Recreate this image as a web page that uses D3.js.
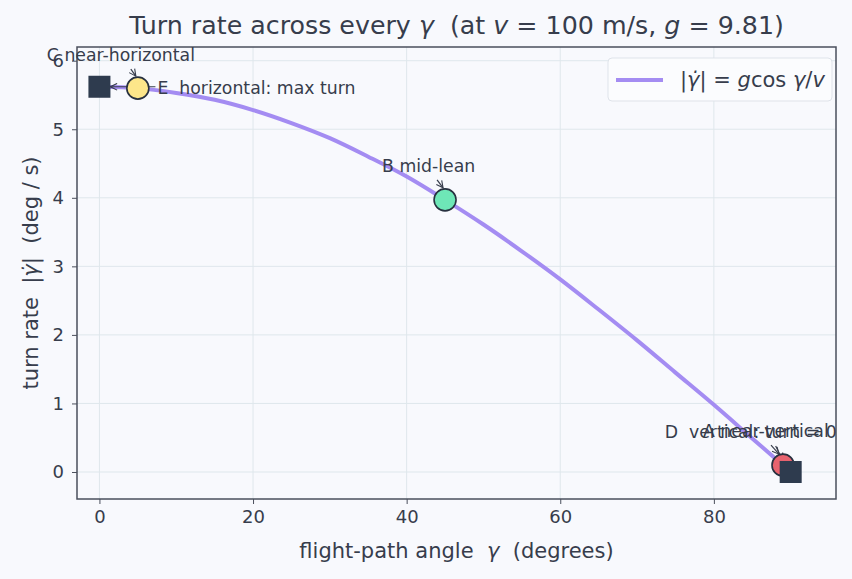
<!DOCTYPE html>
<html>
<head>
<meta charset="utf-8">
<script src="https://cdn.jsdelivr.net/npm/d3@7"></script>
<style>
  body { margin: 0; background: #f8f9fd; }
  text { font-family: "DejaVu Sans", sans-serif; fill: #373d4c; white-space: pre; }
</style>
</head>
<body>
<div id="chart"></div>
<script>
// Turn rate vs flight-path angle

// DATA
const gammaDeg = [0, 5, 10, 15, 20, 25, 30, 35, 40, 45, 50, 55, 60, 65, 70, 75, 80, 85, 90];
const turnRate = [5.62, 5.60, 5.53, 5.43, 5.28, 5.09, 4.87, 4.60, 4.31, 3.97, 3.61, 3.22, 2.81, 2.37, 1.92, 1.45, 0.98, 0.49, 0.0];

const markLabels = ["E", "C", "B", "A", "D"];
const markGamma = [0, 5, 45, 89, 90];
const markRate = [5.62, 5.60, 3.97, 0.10, 0.0];
const markShape = ["square", "circle", "circle", "circle", "square"];
const markText = ["E  horizontal: max turn", "C near-horizontal", "B mid-lean", "A near-vertical", "D  vertical: turn = 0"];

const xTicks = [0, 20, 40, 60, 80];
const yTicks = [0, 1, 2, 3, 4, 5, 6];

// Layout
const width = 852, height = 579;
const plot = { left: 77, right: 836, top: 47, bottom: 499 };

const svg = d3.select("#chart").append("svg")
    .attr("width", width)
    .attr("height", height);

svg.append("rect").attr("width", width).attr("height", height).attr("fill", "#f8f9fd");

const x = d3.scaleLinear().domain([-2.92, 95.9]).range([plot.left, plot.right]);
const y = d3.scaleLinear().domain([-0.394, 6.2]).range([plot.bottom, plot.top]);

// Grid
const grid = svg.append("g");
grid.selectAll("line.gx").data(xTicks).enter().append("line")
    .attr("x1", d => x(d)).attr("x2", d => x(d))
    .attr("y1", plot.top).attr("y2", plot.bottom)
    .attr("stroke", "#dfe7ec").attr("stroke-width", 1);
grid.selectAll("line.gy").data(yTicks).enter().append("line")
    .attr("y1", d => y(d)).attr("y2", d => y(d))
    .attr("x1", plot.left).attr("x2", plot.right)
    .attr("stroke", "#dfe7ec").attr("stroke-width", 1);

// Axes
const xAxis = svg.append("g")
    .attr("transform", "translate(0," + plot.bottom + ")")
    .call(d3.axisBottom(x).tickValues(xTicks).tickFormat(d3.format("d")).tickSize(5).tickPadding(6));
const yAxis = svg.append("g")
    .attr("transform", "translate(" + plot.left + ",0)")
    .call(d3.axisLeft(y).tickValues(yTicks).tickFormat(d3.format("d")).tickSize(5).tickPadding(8));
[xAxis, yAxis].forEach(function(a) {
    a.select(".domain").remove();
    a.selectAll("line").attr("stroke", "#4a4f5c");
    a.selectAll("text").style("font-size", "18px").style("font-family", "DejaVu Sans").attr("fill", "#373d4c");
});

// Frame
svg.append("rect")
    .attr("x", plot.left).attr("y", plot.top)
    .attr("width", plot.right - plot.left).attr("height", plot.bottom - plot.top)
    .attr("fill", "none").attr("stroke", "#4a4f5c").attr("stroke-width", 1.5);

// Curve
const line = d3.line()
    .x((d, i) => x(gammaDeg[i]))
    .y(d => y(d))
    .curve(d3.curveMonotoneX);
svg.append("path")
    .datum(turnRate)
    .attr("d", line)
    .attr("fill", "none")
    .attr("stroke", "#a48cf2")
    .attr("stroke-width", 4);

// Arrow marker
svg.append("defs").append("marker")
    .attr("id", "arr")
    .attr("viewBox", "0 0 10 10")
    .attr("refX", 9).attr("refY", 5)
    .attr("markerWidth", 7).attr("markerHeight", 7)
    .attr("orient", "auto")
    .append("path")
    .attr("d", "M1,1 L9,5 L1,9")
    .attr("fill", "none").attr("stroke", "#373d4c").attr("stroke-width", 1.3);

// Annotation layout: text offset from the mark, arrow start and arrow end offsets
const annText = [
    { dx: 58, dy: 7, sx: 56, sy: 0, ex: 11, ey: 0 },
    { dx: -91, dy: -27, sx: -7, sy: -19, ex: -2, ey: -12 },
    { dx: -63, dy: -28, sx: -8, sy: -20, ex: -2, ey: -12 },
    { dx: -80, dy: -28, sx: -12, sy: -20, ex: -4, ey: -11 },
    { dx: -126, dy: -34, sx: -15, sy: -26, ex: -8, ey: -12 }
];
const markFill = ["#2e3b4e", "#fde68a", "#6ee7b7", "#e8636f", "#2e3b4e"];

const ann = svg.append("g");
markGamma.forEach(function(g, i) {
    const px = x(g), py = y(markRate[i]);
    const a = annText[i];
    ann.append("line")
        .attr("x1", px + a.sx).attr("y1", py + a.sy)
        .attr("x2", px + a.ex).attr("y2", py + a.ey)
        .attr("stroke", "#373d4c").attr("stroke-width", 1.2)
        .attr("marker-end", "url(#arr)");
    ann.append("text")
        .attr("x", px + a.dx).attr("y", py + a.dy)
        .style("font-size", "17.3px")
        .text(markText[i]);
});

// Markers
const marks = svg.append("g");
markGamma.forEach(function(g, i) {
    const px = x(g), py = y(markRate[i]);
    if (markShape[i] === "square") {
        marks.append("rect")
            .attr("x", px - 11).attr("y", py - 11)
            .attr("width", 22).attr("height", 22)
            .attr("fill", markFill[i]);
    } else {
        marks.append("circle")
            .attr("cx", px).attr("cy", py).attr("r", 11)
            .attr("fill", markFill[i])
            .attr("stroke", "#27303f").attr("stroke-width", 1.6);
    }
});

// Title
const title = svg.append("text")
    .attr("x", (plot.left + plot.right) / 2).attr("y", 34)
    .attr("text-anchor", "middle")
    .style("font-size", "25.3px");
title.append("tspan").text("Turn rate across every ");
title.append("tspan").style("font-style", "italic").text("γ");
title.append("tspan").text("  (at ");
title.append("tspan").style("font-style", "italic").text("v");
title.append("tspan").text(" = 100 m/s, ");
title.append("tspan").style("font-style", "italic").text("g");
title.append("tspan").text(" = 9.81)");

// Axis labels
const xl = svg.append("text")
    .attr("x", (plot.left + plot.right) / 2).attr("y", 558)
    .attr("text-anchor", "middle")
    .style("font-size", "21px");
xl.append("tspan").text("flight-path angle  ");
xl.append("tspan").style("font-style", "italic").text("γ");
xl.append("tspan").text("  (degrees)");

const yl = svg.append("text")
    .attr("transform", "translate(38," + ((plot.top + plot.bottom) / 2) + ") rotate(-90)")
    .attr("text-anchor", "middle")
    .style("font-size", "21px");
yl.append("tspan").text("turn rate  |");
yl.append("tspan").style("font-style", "italic").text("γ\u0307");
yl.append("tspan").text("|  (deg / s)");

// Legend
const lg = svg.append("g").attr("transform", "translate(608,58)");
lg.append("rect")
    .attr("width", 224).attr("height", 43).attr("rx", 4)
    .attr("fill", "#fbfcfe").attr("stroke", "#dfe3ea");
lg.append("line")
    .attr("x1", 8).attr("x2", 55).attr("y1", 22).attr("y2", 22)
    .attr("stroke", "#a48cf2").attr("stroke-width", 4);
const lt = lg.append("text").attr("x", 72).attr("y", 29).style("font-size", "21px");
lt.append("tspan").text("|");
lt.append("tspan").style("font-style", "italic").text("γ\u0307");
lt.append("tspan").text("| = ");
lt.append("tspan").style("font-style", "italic").text("g");
lt.append("tspan").text("cos ");
lt.append("tspan").style("font-style", "italic").text("γ");
lt.append("tspan").text("/");
lt.append("tspan").style("font-style", "italic").text("v");
</script>
</body>
</html>
